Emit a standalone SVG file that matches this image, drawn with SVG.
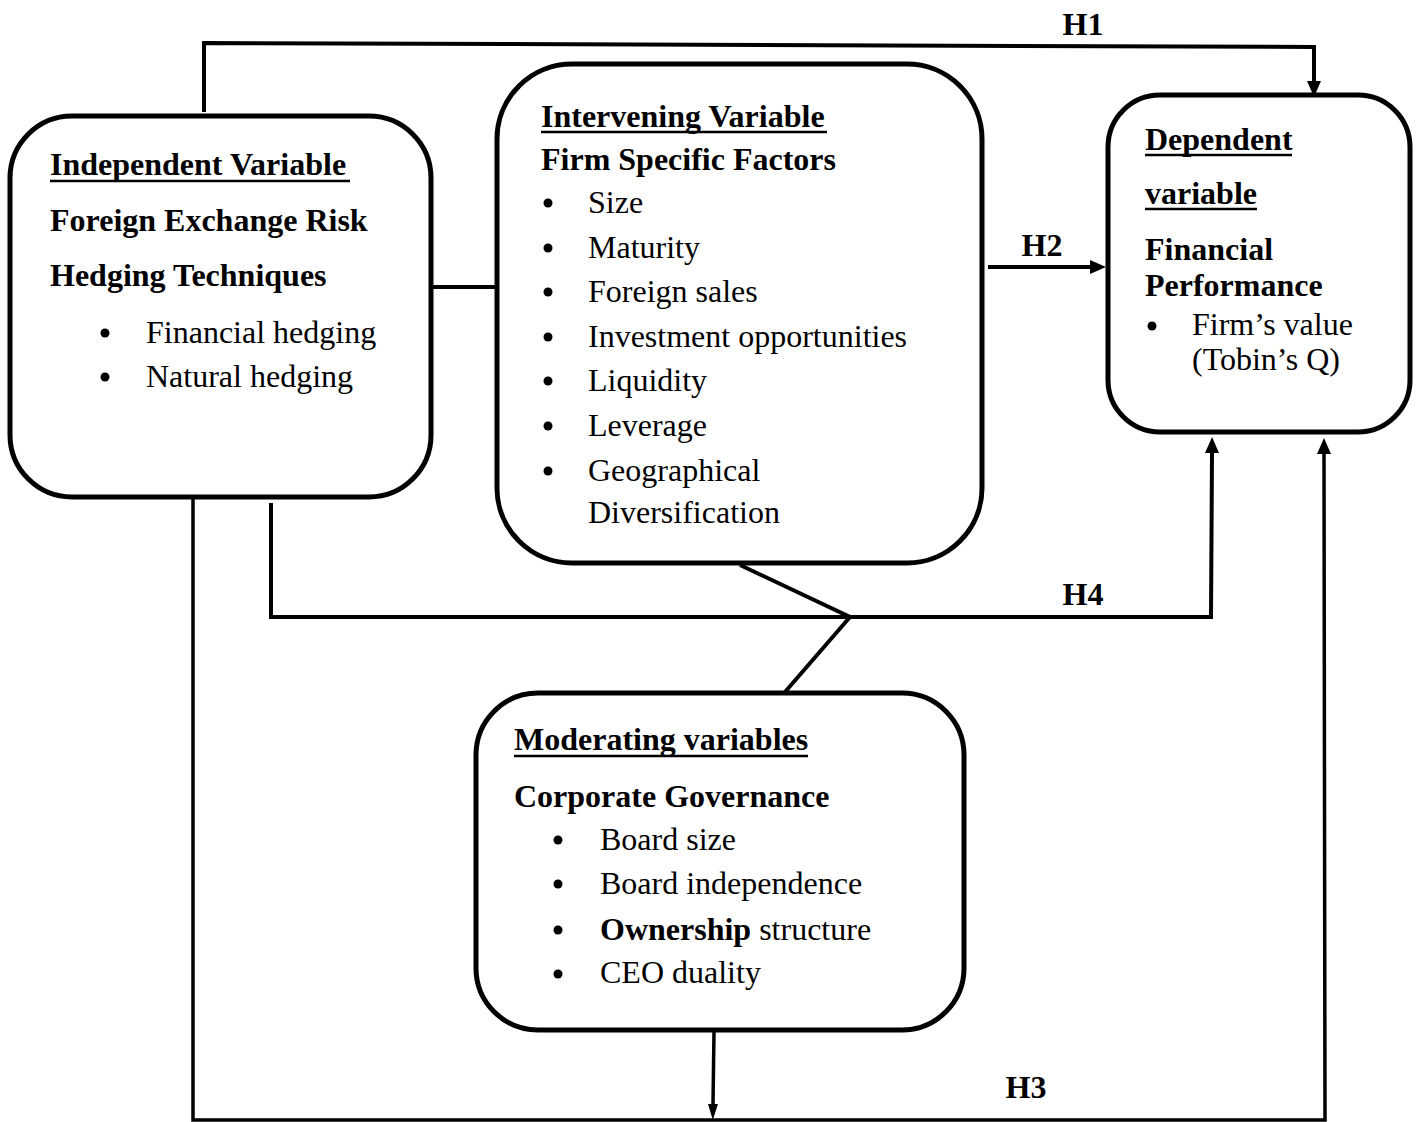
<svg xmlns="http://www.w3.org/2000/svg" width="1419" height="1122" viewBox="0 0 1419 1122">
<style>
  .box { fill: #fff; stroke: #000; stroke-width: 5; }
  .t { font-family: "Liberation Serif", "Times New Roman", serif; font-size: 32px; fill: #000; }
  .b { font-weight: bold; }
  .ul { stroke: #000; stroke-width: 2.5; }
  .conn { fill: none; stroke: #000; stroke-width: 4; stroke-linejoin: miter; }
  .bul { fill: #000; }
</style>
<defs>
  <marker id="arr" markerUnits="userSpaceOnUse" markerWidth="16" markerHeight="14" refX="0" refY="7" orient="auto">
    <path d="M0,0 L16,7 L0,14 z" fill="#000"/>
  </marker>
  <marker id="arrS" markerUnits="userSpaceOnUse" markerWidth="16" markerHeight="10" refX="0" refY="5" orient="auto">
    <path d="M0,0 L16,5 L0,10 z" fill="#000"/>
  </marker>
</defs>
<rect width="1419" height="1122" fill="#fff"/>

<g id="connectors">
  <polyline class="conn" points="204,112 204,43 1314,47 1314,81" marker-end="url(#arr)"/>
  <line class="conn" x1="431" y1="287" x2="497" y2="287"/>
  <line class="conn" x1="988" y1="267" x2="1090" y2="267" marker-end="url(#arr)"/>
  <polyline class="conn" points="271,503 271,617 1211,617 1212,453" marker-end="url(#arr)"/>
  <polyline class="conn" points="740,565 850,617 785,692"/>
  <polyline class="conn" style="stroke-width:3.5" points="193,497 193,1120 1325,1120 1324,454" marker-end="url(#arr)"/>
  <line class="conn" style="stroke-width:3.5" x1="714" y1="1032" x2="713" y2="1104" marker-end="url(#arrS)"/>
  <text class="t b" x="1083" y="35" text-anchor="middle">H1</text>
  <text class="t b" x="1042" y="256" text-anchor="middle">H2</text>
  <text class="t b" x="1083" y="605" text-anchor="middle">H4</text>
  <text class="t b" x="1026" y="1098" text-anchor="middle">H3</text>
</g>

<g id="independent">
  <rect class="box" x="10" y="116" width="421" height="381" rx="62" ry="62"/>
  <text class="t b" x="50" y="175">Independent Variable</text>
  <line class="ul" x1="50" y1="181" x2="350" y2="181"/>
  <text class="t b" x="50" y="231">Foreign Exchange Risk</text>
  <text class="t b" x="50" y="286">Hedging Techniques</text>
  <circle class="bul" cx="105" cy="333" r="4.5"/>
  <text class="t" x="146" y="343">Financial hedging</text>
  <circle class="bul" cx="105" cy="377" r="4.5"/>
  <text class="t" x="146" y="387">Natural hedging</text>
</g>

<g id="intervening">
  <rect class="box" x="497" y="64" width="485" height="499" rx="75" ry="75"/>
  <text class="t b" x="541" y="127">Intervening Variable</text>
  <line class="ul" x1="541" y1="132" x2="827" y2="132"/>
  <text class="t b" x="541" y="170">Firm Specific Factors</text>
  <circle class="bul" cx="548" cy="203" r="4.5"/>
  <text class="t" x="588" y="213">Size</text>
  <circle class="bul" cx="548" cy="248" r="4.5"/>
  <text class="t" x="588" y="258">Maturity</text>
  <circle class="bul" cx="548" cy="292" r="4.5"/>
  <text class="t" x="588" y="302">Foreign sales</text>
  <circle class="bul" cx="548" cy="337" r="4.5"/>
  <text class="t" x="588" y="347">Investment opportunities</text>
  <circle class="bul" cx="548" cy="381" r="4.5"/>
  <text class="t" x="588" y="391">Liquidity</text>
  <circle class="bul" cx="548" cy="426" r="4.5"/>
  <text class="t" x="588" y="436">Leverage</text>
  <circle class="bul" cx="548" cy="471" r="4.5"/>
  <text class="t" x="588" y="481">Geographical</text>
  <text class="t" x="588" y="523">Diversification</text>
</g>

<g id="dependent">
  <rect class="box" x="1108" y="95" width="302" height="337" rx="52" ry="52"/>
  <text class="t b" x="1145" y="150">Dependent</text>
  <line class="ul" x1="1145" y1="155" x2="1292" y2="155"/>
  <text class="t b" x="1145" y="204">variable</text>
  <line class="ul" x1="1145" y1="209" x2="1257" y2="209"/>
  <text class="t b" x="1145" y="260">Financial</text>
  <text class="t b" x="1145" y="296">Performance</text>
  <circle class="bul" cx="1152" cy="326" r="4.5"/>
  <text class="t" x="1192" y="335">Firm’s value</text>
  <text class="t" x="1192" y="370">(Tobin’s Q)</text>
</g>

<g id="moderating">
  <rect class="box" x="476" y="693" width="488" height="337" rx="62" ry="62"/>
  <text class="t b" x="514" y="750">Moderating variables</text>
  <line class="ul" x1="514" y1="756" x2="808" y2="756"/>
  <text class="t b" x="514" y="807">Corporate Governance</text>
  <circle class="bul" cx="558" cy="840" r="4.5"/>
  <text class="t" x="600" y="850">Board size</text>
  <circle class="bul" cx="558" cy="884" r="4.5"/>
  <text class="t" x="600" y="894">Board independence</text>
  <circle class="bul" cx="558" cy="930" r="4.5"/>
  <text class="t" x="600" y="940"><tspan class="b">Ownership</tspan> structure</text>
  <circle class="bul" cx="558" cy="974" r="4.5"/>
  <text class="t" x="600" y="983">CEO duality</text>
</g>
</svg>
